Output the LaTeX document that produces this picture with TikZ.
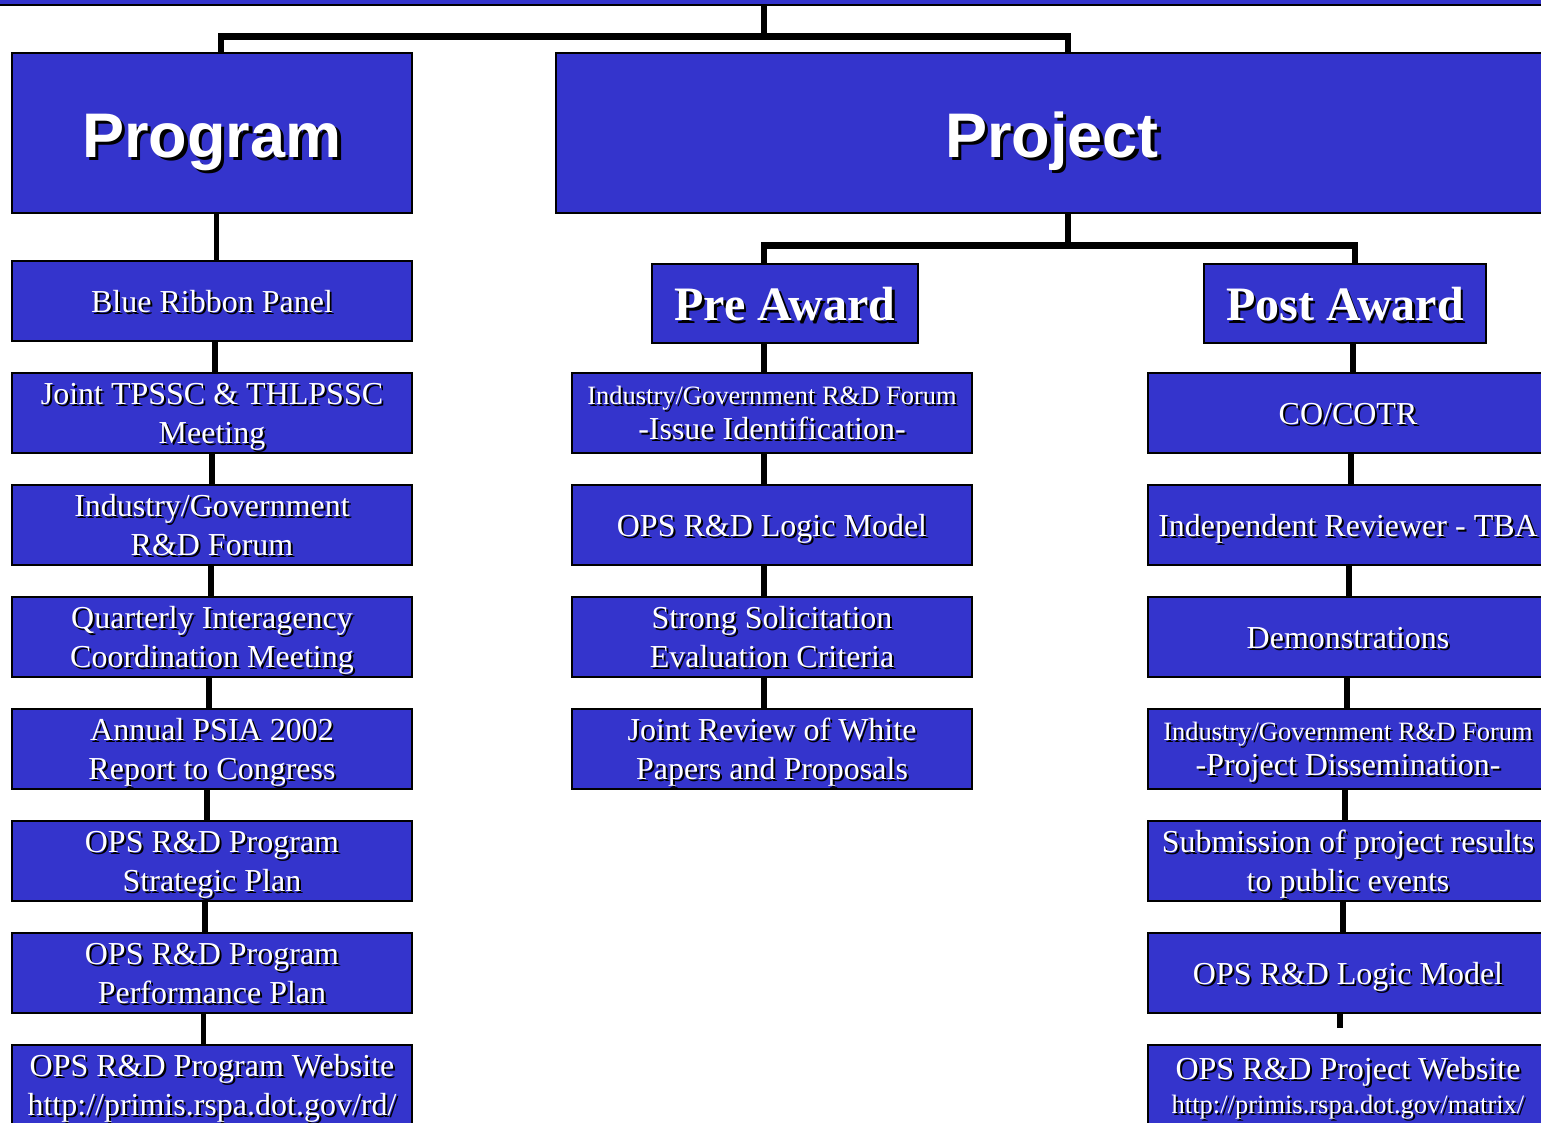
\documentclass[tikz,border=0pt]{standalone}
\usepackage{fontspec}
\setmainfont{Liberation Serif}
\newfontfamily\hdfont{Liberation Sans}
\definecolor{boxblue}{RGB}{52,52,204}
% shadowed line of text with fixed height/depth: {offset}{height}{depth}{text}
\newcommand\shx[4]{\raisebox{0pt}[#2][#3]{\rlap{\kern#1\raisebox{-#1}{\color{black}#4}}#4}}
\newcommand\Ln[1]{\shx{2pt}{26pt}{4pt}{#1}}
\newcommand\Ls[1]{{\fontsize{26.5}{30}\selectfont\shx{2pt}{22pt}{4pt}{#1}}}
\newcommand\Lh[1]{\shx{3.5pt}{56pt}{8pt}{#1}}
\newcommand\Lp[1]{\shx{2.5pt}{40pt}{6pt}{#1}}
\tikzset{
  box/.style={draw=black, line width=2.5pt, fill=boxblue, text=white, inner sep=0pt,
    align=center, minimum width=400pt, minimum height=80pt, font=\fontsize{32}{39}\selectfont},
  headbox/.style={box, font=\hdfont\bfseries\fontsize{63}{70}\selectfont, minimum height=160pt},
  subhead/.style={box, font=\bfseries\fontsize{48}{54}\selectfont, minimum height=79pt},
  conn/.style={line width=5.5pt, draw=black},
  bar/.style={line width=7pt, draw=black},
}
\begin{document}
\begin{tikzpicture}[x=1pt,y=-1pt]
\useasboundingbox (0,0) rectangle (1541,1122);
\clip (0,0) rectangle (1541,1122);
\fill[white] (0,0) rectangle (1541,1122);
\fill[boxblue] (0,0) rectangle (1541,3.5);
\draw[line width=2pt] (0,4.5) -- (1541,4.5);

% headers
\node[headbox, minimum width=400pt] (prog) at (212,133) {\Lh{Program}};
\node[headbox, minimum width=992pt] (proj) at (1052,133) {\Lh{Project}};
\node[subhead, minimum width=266pt] (pre) at (785,303.5) {\Lp{Pre Award}};
\node[subhead, minimum width=282pt] (post) at (1345,303.5) {\Lp{Post Award}};

% left column
\node[box] (l1) at (212,301) {\Ln{Blue Ribbon Panel}};
\node[box] (l2) at (212,413) {\Ln{Joint TPSSC \& THLPSSC}\\\Ln{Meeting}};
\node[box] (l3) at (212,525) {\Ln{Industry/Government}\\\Ln{R\&D Forum}};
\node[box] (l4) at (212,637) {\Ln{Quarterly Interagency}\\\Ln{Coordination Meeting}};
\node[box] (l5) at (212,749) {\Ln{Annual PSIA 2002}\\\Ln{Report to Congress}};
\node[box] (l6) at (212,861) {\Ln{OPS R\&D Program}\\\Ln{Strategic Plan}};
\node[box] (l7) at (212,973) {\Ln{OPS R\&D Program}\\\Ln{Performance Plan}};
\node[box] (l8) at (212,1085) {\Ln{OPS R\&D Program Website}\\\Ln{http://primis.rspa.dot.gov/rd/}};

% middle column
\node[box] (m1) at (772,413) {\Ls{Industry/Government R\&D Forum}\\[-3.5pt]\Ln{-Issue Identification-}};
\node[box] (m2) at (772,525) {\Ln{OPS R\&D Logic Model}};
\node[box] (m3) at (772,637) {\Ln{Strong Solicitation}\\\Ln{Evaluation Criteria}};
\node[box] (m4) at (772,749) {\Ln{Joint Review of White}\\\Ln{Papers and Proposals}};

% right column
\node[box] (r1) at (1348,413) {\Ln{CO/COTR}};
\node[box] (r2) at (1348,525) {\Ln{Independent Reviewer - TBA}};
\node[box] (r3) at (1348,637) {\Ln{Demonstrations}};
\node[box] (r4) at (1348,749) {\Ls{Industry/Government R\&D Forum}\\[-3.5pt]\Ln{-Project Dissemination-}};
\node[box] (r5) at (1348,861) {\Ln{Submission of project results}\\\Ln{to public events}};
\node[box] (r6) at (1348,973) {\Ln{OPS R\&D Logic Model}};
\node[box] (r7) at (1348,1085) {\Ln{OPS R\&D Project Website}\\[-5pt]{\fontsize{26.5}{30}\selectfont\shx{2pt}{22pt}{3pt}{http://primis.rspa.dot.gov/matrix/}}};

% top tree
\coordinate (topc) at (764,5);
\coordinate (topbar) at (764,36.5);
\draw[conn] (topc) -- (topbar);
\draw[bar] ([xshift=6pt]prog.north |- topbar) -- ([xshift=19pt]proj.north |- topbar);
\draw[conn] ([xshift=9pt]prog.north |- topbar) -- ([xshift=9pt]prog.north);
\draw[conn] ([xshift=16pt]proj.north |- topbar) -- ([xshift=16pt]proj.north);

% project to pre/post
\coordinate (pbar) at (1060,245);
\draw[conn] ([xshift=16pt]proj.south) -- ([xshift=16pt]proj.south |- pbar);
\draw[bar] ([xshift=-24pt]pre.north |- pbar) -- ([xshift=13pt]post.north |- pbar);
\draw[conn] ([xshift=-21pt]pre.north |- pbar) -- ([xshift=-21pt]pre.north);
\draw[conn] ([xshift=10pt]post.north |- pbar) -- ([xshift=10pt]post.north);

% left connectors
\draw[conn] ([xshift=4.5pt]prog.south) -- ([xshift=4.5pt]l1.north);
\draw[conn] ([xshift=3pt]l1.south) -- ([xshift=3pt]l2.north);
\draw[conn] ([xshift=0pt]l2.south) -- ([xshift=0pt]l3.north);
\draw[conn] ([xshift=-1pt]l3.south) -- ([xshift=-1pt]l4.north);
\draw[conn] ([xshift=-3pt]l4.south) -- ([xshift=-3pt]l5.north);
\draw[conn] ([xshift=-5pt]l5.south) -- ([xshift=-5pt]l6.north);
\draw[conn] ([xshift=-7pt]l6.south) -- ([xshift=-7pt]l7.north);
\draw[conn] ([xshift=-8.5pt]l7.south) -- ([xshift=-8.5pt]l8.north);

% middle connectors
\draw[conn] ([xshift=-21pt]pre.south) -- ([xshift=-8pt]m1.north);
\draw[conn] ([xshift=-8pt]m1.south) -- ([xshift=-8pt]m2.north);
\draw[conn] ([xshift=-8pt]m2.south) -- ([xshift=-8pt]m3.north);
\draw[conn] ([xshift=-8pt]m3.south) -- ([xshift=-8pt]m4.north);

% right connectors
\draw[conn] ([xshift=8pt]post.south) -- ([xshift=5pt]r1.north);
\draw[conn] ([xshift=3pt]r1.south) -- ([xshift=3pt]r2.north);
\draw[conn] ([xshift=1pt]r2.south) -- ([xshift=1pt]r3.north);
\draw[conn] ([xshift=-1pt]r3.south) -- ([xshift=-1pt]r4.north);
\draw[conn] ([xshift=-3pt]r4.south) -- ([xshift=-3pt]r5.north);
\draw[conn] ([xshift=-5pt]r5.south) -- ([xshift=-5pt]r6.north);
\coordinate (stub) at (1340,1028);
\draw[conn] ([xshift=-8pt]r6.south) -- (stub);
\end{tikzpicture}
\end{document}
